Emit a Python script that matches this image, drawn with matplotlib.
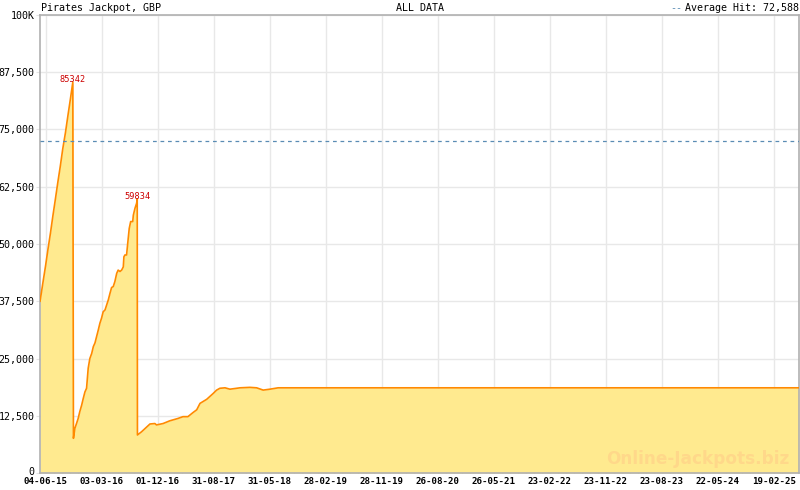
import matplotlib
matplotlib.use("Agg")
import matplotlib.pyplot as plt
import matplotlib.dates as mdates
import matplotlib.transforms as mtransforms
import numpy as np
import datetime as dt

# ---- data ----
dates = [
    "2015-05-06", "2015-05-08", "2015-05-20", "2015-06-02", "2015-06-14", "2015-06-26",
    "2015-07-08", "2015-07-20", "2015-08-01", "2015-08-13", "2015-08-25", "2015-09-07",
    "2015-09-19", "2015-10-01", "2015-10-13",
    "2015-10-16", "2015-10-23", "2015-10-31", "2015-11-08", "2015-11-16", "2015-11-25",
    "2015-12-03", "2015-12-11", "2015-12-19", "2015-12-27", "2016-01-04", "2016-01-13",
    "2016-01-21", "2016-01-29", "2016-02-06", "2016-02-14", "2016-02-22", "2016-03-01",
    "2016-03-09", "2016-03-18", "2016-03-26", "2016-04-03", "2016-04-11", "2016-04-19",
    "2016-04-27", "2016-05-05", "2016-05-14", "2016-05-21", "2016-05-30", "2016-06-07",
    "2016-06-15", "2016-06-18", "2016-06-23", "2016-07-01", "2016-07-09", "2016-07-14",
    "2016-07-21", "2016-07-31", "2016-08-03", "2016-08-11", "2016-08-19", "2016-08-22",
    "2016-08-23", "2016-09-12", "2016-10-23", "2016-11-16", "2016-11-24", "2016-12-26",
    "2017-01-28", "2017-03-08", "2017-04-02", "2017-04-26", "2017-05-21", "2017-06-08",
    "2017-06-24", "2017-07-27", "2017-08-28", "2017-09-13", "2017-09-29", "2017-10-24",
    "2017-11-17", "2017-12-20", "2018-01-05", "2018-02-22", "2018-03-27", "2018-04-28",
    "2018-05-31", "2018-07-10", "2025-06-22",
]
values = [
    37500, 38000, 41500, 45200, 48900, 52400,
    56200, 59800, 63500, 67000, 70800, 74300,
    78000, 81600, 85342,
    7570, 9750, 10800, 11900, 13400, 14800,
    16300, 17700, 18500, 22900, 25000, 26100,
    27600, 28400, 29800, 31200, 32700, 33800,
    35200, 35600, 36700, 37800, 39200, 40500,
    40700, 41800, 43600, 44300, 44000, 44300,
    45000, 47200, 47600, 47600, 51200, 53400,
    54900, 54900, 56300, 57800, 58900, 59834,
    8300, 9000, 10700, 10800, 10500, 10800,
    11400, 11900, 12300, 12300, 13200, 13800,
    15200, 16100, 17400, 18100, 18500, 18600,
    18300, 18500, 18600, 18700, 18600, 18100,
    18300, 18600, 18600,
]
peaks = [("2015-10-13", 85342), ("2016-08-22", 59834)]
average_hit = 72588
y_ticks = [0, 12500, 25000, 37500, 50000, 62500, 75000, 87500, 100000]
y_labels = ["0", "12,500", "25,000", "37,500", "50,000", "62,500", "75,000", "87,500", "100K"]
x_labels = ["04-06-15", "03-03-16", "01-12-16", "31-08-17", "31-05-18", "28-02-19",
            "28-11-19", "26-08-20", "26-05-21", "23-02-22", "23-11-22", "23-08-23",
            "22-05-24", "19-02-25"]
x_start, x_end = "2015-05-06", "2025-06-22"
title_left = "Pirates Jackpot, GBP"
title_center = "ALL DATA"
legend_text = "Average Hit: 72,588"
watermark = "Online-Jackpots.biz"

# ---- plot ----
FONT = "DejaVu Sans Mono"
def dnum(s):
    return mdates.date2num(dt.datetime.strptime(s, "%Y-%m-%d"))

xs = np.array([dnum(s) for s in dates])

fig = plt.figure(figsize=(8, 4.9), dpi=100)
ax = fig.add_axes([40/800, 1-473/490, 759/800, 458/490])

fill_col = "#ffea8f"
line_col = "#ff8a00"
ax.fill_between(xs, values, 0, color=fill_col, lw=0, zorder=2)
ax.plot(xs, values, color=line_col, lw=1.2, zorder=3)

ax.axhline(average_hit, color="#5a8cb4", lw=0.9, ls=(0, (3, 3)), zorder=4)

for ds, v in peaks:
    ax.annotate(f"{v}", (dnum(ds), v), xytext=(0, -1.5), textcoords="offset points",
                ha="center", va="bottom", color="#cc0000", fontsize=6.2, family=FONT, zorder=5)

x0, x1 = dnum(x_start), dnum(x_end)
ax.set_xlim(x0, x1)
ax.set_ylim(0, 100000)

# major ticks at the label dates (equally spaced), 7 minor intervals each
first = dt.datetime.strptime(x_labels[0], "%d-%m-%y")
last = dt.datetime.strptime(x_labels[-1], "%d-%m-%y")
t0, tl = mdates.date2num(first), mdates.date2num(last)
step = (tl - t0) / (len(x_labels) - 1)
majors = t0 + step * np.arange(len(x_labels))
minors = np.arange(t0 - step, x1 + 1, step / 7)
minors = minors[(minors >= x0) & (minors <= x1)]
ax.set_xticks(majors)
ax.set_xticks(minors, minor=True)
ax.set_xticklabels(x_labels, fontsize=6.6, family=FONT, fontweight="bold")
ax.set_yticks(y_ticks)
ax.set_yticklabels(y_labels, fontsize=7.2, family=FONT)

ax.tick_params(axis="x", which="major", direction="in", length=5, color="#aab0c0", pad=3)
ax.tick_params(axis="x", which="minor", direction="in", length=3, color="#aab0c0")
ax.tick_params(axis="y", which="major", direction="out", length=3, color="#e4e4e4", pad=1)

# lift the "0" label slightly so it sits clear of the date labels
lab0 = ax.get_yticklabels()[0]
lab0.set_transform(lab0.get_transform() + mtransforms.ScaledTranslation(0, 2/100, fig.dpi_scale_trans))

ax.grid(True, which="major", color="#e8e8e8", lw=1, zorder=0)
ax.set_axisbelow(True)
for s in ax.spines.values():
    s.set_color("#b0b0b0")
    s.set_linewidth(1.2)

fig.text(41/800, 1-8/490, title_left, ha="left", va="center", fontsize=7.2, family=FONT)
fig.text(420/800, 1-8/490, title_center, ha="center", va="center", fontsize=7.2, family=FONT)
fig.text(799/800, 1-8/490, legend_text, ha="right", va="center", fontsize=7.2, family=FONT)
fig.text(682/800, 1-8/490, "--", ha="right", va="center", fontsize=7.2, family=FONT, color="#5a8cb4")

ax.text(0.987, 0.012, watermark, transform=ax.transAxes, ha="right", va="bottom",
        fontsize=12.2, fontweight="bold", color="#ffd88a", family="DejaVu Sans", zorder=6)

fig.savefig("out.png", dpi=100)
